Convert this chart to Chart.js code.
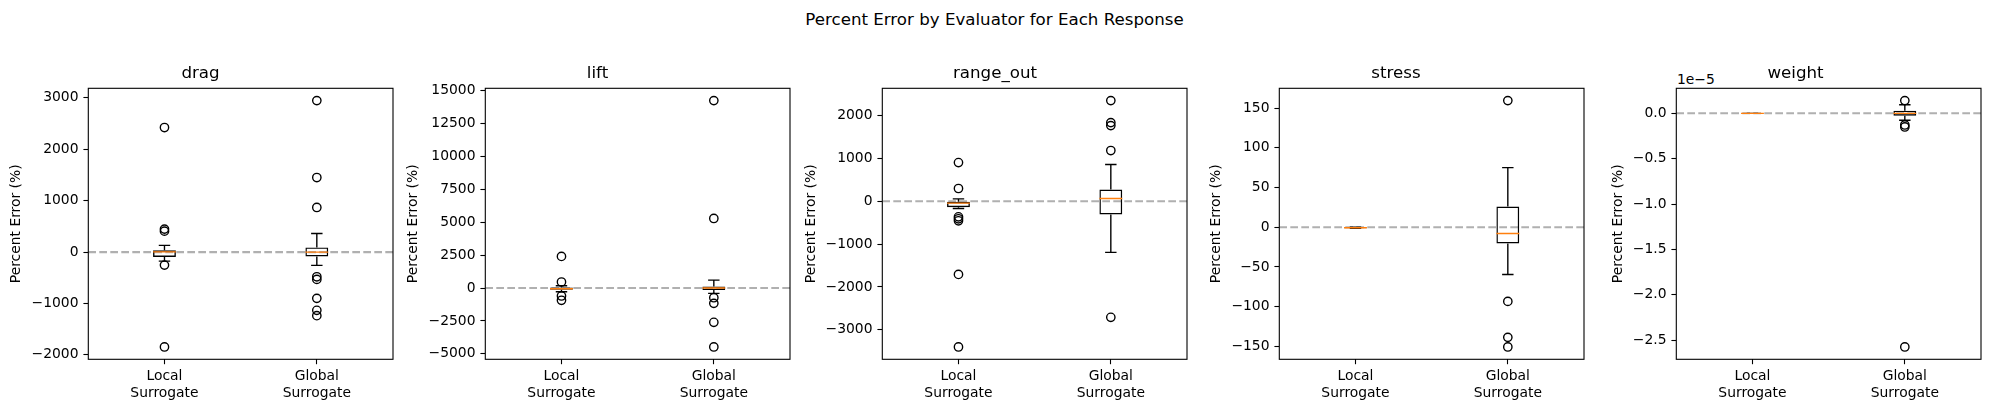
<!DOCTYPE html>
<html>
<head>
<meta charset="utf-8">
<script src="https://cdn.jsdelivr.net/npm/chart.js@4.4.1/dist/chart.umd.min.js"></script>
<style>
html,body{margin:0;padding:0;background:#fff;}
body{width:1989px;height:413px;position:relative;overflow:hidden;font-family:"DejaVu Sans",sans-serif;color:#000;}
canvas{position:absolute;top:0;}
#suptitle{position:absolute;left:0;width:1989px;top:10px;text-align:center;font-size:16.67px;line-height:20px;}
#offset{position:absolute;left:1677px;top:71px;font-size:13.89px;line-height:16.7px;}
</style>
</head>
<body>
<div id="suptitle">Percent Error by Evaluator for Each Response</div>
<div id="offset">1e−5</div>
<canvas id="c0" width="391" height="413"></canvas>
<canvas id="c1" width="391" height="413"></canvas>
<canvas id="c2" width="390" height="413"></canvas>
<canvas id="c3" width="382" height="413"></canvas>
<canvas id="c4" width="377" height="413"></canvas>
<script>
// ---------------- data ----------------
const categories = ['Local Surrogate', 'Global Surrogate'];
const responses = ['drag', 'lift', 'range_out', 'stress', 'weight'];
const yAxisLabel = 'Percent Error (%)';

// box statistics per evaluator: [lower whisker, Q1, median, Q3, upper whisker]  (Local, Global)
const dragStats   = [[-175, -95, 5, 35, 130], [-259, -84, 0, 91, 363]];
const liftStats   = [[-280, -120, -50, 40, 180], [-400, -150, 0, 120, 600]];
const rangeStats  = [[-170, -140, -45, -15, 55], [-1195, -310, 62, 272, 855]];
const stressStats = [[-1.5, -1.2, -0.8, -0.4, 0.0], [-59.5, -20.5, -8, 26, 75]];
const weightStats = [[0, 0, 0, 0, 0], [-0.077e-5, -0.026e-5, 0.0, 0.029e-5, 0.095e-5]];

// outliers per evaluator (Local, Global)
const dragOutliers   = [[2423, 447, 408, -253, -1846], [2947, 1451, 868, -480, -531, -900, -1133, -1237]];
const liftOutliers   = [[2405, 460, -600, -930], [14241, 5288, -734, -1163, -2605, -4477]];
const rangeOutliers  = [[901, 296, -365, -410, -458, -1708, -3401], [2346, 1833, 1763, 1181, -2709]];
const stressOutliers = [[], [159.3, -93.4, -138.7, -150.8]];
const weightOutliers = [[], [0.14e-5, -0.128e-5, -0.15e-5, -2.574e-5]];

// y tick values
const dragTicks   = [-2000, -1000, 0, 1000, 2000, 3000];
const liftTicks   = [-5000, -2500, 0, 2500, 5000, 7500, 10000, 12500, 15000];
const rangeTicks  = [-3000, -2000, -1000, 0, 1000, 2000];
const stressTicks = [-150, -100, -50, 0, 50, 100, 150];
const weightTicks = [-2.5e-5, -2.0e-5, -1.5e-5, -1.0e-5, -0.5e-5, 0];

// ---------------- rendering ----------------
const FONT = 'DejaVu Sans';
Chart.defaults.font.family = FONT;
Chart.defaults.color = '#000';

const MINUS = '\u2212';
const intFmt = v => (v < 0 ? MINUS : '') + Math.abs(Math.round(v));
const e5Fmt = v => { const s = Math.abs(v / 1e-5).toFixed(1); return (v < -1e-12 ? MINUS : '') + s; };

const panels = [
  {stats: dragStats,   outliers: dragOutliers,   ticks: dragTicks,   fmt: intFmt},
  {stats: liftStats,   outliers: liftOutliers,   ticks: liftTicks,   fmt: intFmt},
  {stats: rangeStats,  outliers: rangeOutliers,  ticks: rangeTicks,  fmt: intFmt},
  {stats: stressStats, outliers: stressOutliers, ticks: stressTicks, fmt: intFmt},
  {stats: weightStats, outliers: weightOutliers, ticks: weightTicks, fmt: e5Fmt}
];

// layout (pixels): canvas left and y-axis block width per panel
const canvasLeft = [8, 405, 803, 1208, 1610];
const yAxisWidth = [80.3, 80.3, 79.3, 71.3, 66.3];
const X_AXIS_H = 53.7;

const BOX_W = 0.15, CAP_HALF = 0.0375;
const LW = 1.39;

const framePlugin = {
  id: 'frame',
  afterDatasetsDraw(chart) {
    const {ctx, chartArea: a} = chart;
    ctx.save();
    ctx.strokeStyle = '#000';
    ctx.lineWidth = 1.1;
    ctx.strokeRect(a.left, a.top, a.right - a.left, a.bottom - a.top);
    ctx.restore();
  }
};

panels.forEach((p, k) => {
  const boxes = p.stats.map((s, i) => ({x: i + 1, y: [s[1], s[3]]}));
  const medians = [];
  const whiskers = [];
  p.stats.forEach((s, i) => {
    const x = i + 1;
    const [lo, q1, md, q3, hi] = s;
    medians.push({x: x - BOX_W / 2, y: md}, {x: x + BOX_W / 2, y: md}, {x: x, y: null});
    whiskers.push(
      {x: x, y: q3}, {x: x, y: hi}, {x: x, y: null},
      {x: x - CAP_HALF, y: hi}, {x: x + CAP_HALF, y: hi}, {x: x, y: null},
      {x: x, y: q1}, {x: x, y: lo}, {x: x, y: null},
      {x: x - CAP_HALF, y: lo}, {x: x + CAP_HALF, y: lo}, {x: x, y: null}
    );
  });
  const fliers = [];
  p.outliers.forEach((arr, i) => arr.forEach(v => fliers.push({x: i + 1, y: v})));

  const all = [];
  p.stats.forEach(s => all.push(...s));
  p.outliers.forEach(a => all.push(...a));
  const dMin = Math.min(...all), dMax = Math.max(...all);
  const m = (dMax - dMin) * 0.05;

  const cv = document.getElementById('c' + k);
  cv.style.left = canvasLeft[k] + 'px';

  new Chart(cv, {
    type: 'scatter',
    data: {
      datasets: [
        {type: 'scatter', data: fliers, pointStyle: 'circle', pointRadius: 4.17, pointHoverRadius: 4.17,
         borderColor: '#000', backgroundColor: 'rgba(0,0,0,0)', borderWidth: LW},
        {type: 'line', data: medians, borderColor: '#ff7f0e', borderWidth: LW, pointRadius: 0, spanGaps: false, fill: false},
        {type: 'line', data: whiskers, borderColor: '#000', borderWidth: LW, pointRadius: 0, spanGaps: false, fill: false},
        {type: 'bar', data: boxes, backgroundColor: 'rgba(0,0,0,0)', borderColor: '#000', borderWidth: LW,
         borderSkipped: false, barPercentage: BOX_W, categoryPercentage: 1, grouped: false},
        {type: 'line', data: [{x: 0.5, y: 0}, {x: 2.5, y: 0}], borderColor: 'rgba(128,128,128,0.62)',
         borderWidth: 2.08, borderDash: [7.7, 3.3], pointRadius: 0, fill: false}
      ]
    },
    options: {
      responsive: false,
      animation: false,
      devicePixelRatio: 1,
      events: [],
      layout: {padding: {left: 0, right: 6, top: 0, bottom: 0}},
      plugins: {
        legend: {display: false},
        tooltip: {enabled: false},
        title: {display: true, text: responses[k], color: '#000',
                font: {family: FONT, size: 16.67, weight: 'normal'}, padding: {top: 64, bottom: 4.3}}
      },
      scales: {
        x: {
          type: 'linear', min: 0.5, max: 2.5, offset: false,
          afterBuildTicks: s => { s.ticks = categories.map((c, i) => ({value: i + 1})); },
          afterFit: s => { s.height = X_AXIS_H; },
          ticks: {autoSkip: false, maxRotation: 0, minRotation: 0, padding: 4.15, color: '#000',
                  font: {family: FONT, size: 13.89},
                  callback: v => categories[Math.round(v) - 1].split(' ')},
          grid: {offset: false, drawOnChartArea: false, drawTicks: true, tickLength: 4.9, tickColor: '#000', tickWidth: 1.1},
          border: {display: false}
        },
        y: {
          type: 'linear', min: dMin - m, max: dMax + m,
          afterBuildTicks: s => { s.ticks = p.ticks.map(v => ({value: v})); },
          afterFit: s => { s.width = yAxisWidth[k]; },
          ticks: {autoSkip: false, padding: 4.9, color: '#000', font: {family: FONT, size: 13.89},
                  callback: v => p.fmt(v)},
          grid: {drawOnChartArea: false, drawTicks: true, tickLength: 4.9, tickColor: '#000', tickWidth: 1.1},
          border: {display: false},
          title: {display: true, text: yAxisLabel, color: '#000', padding: 0,
                  font: {family: FONT, size: 13.89}}
        }
      }
    },
    plugins: [framePlugin]
  });
});
</script>
</body>
</html>
